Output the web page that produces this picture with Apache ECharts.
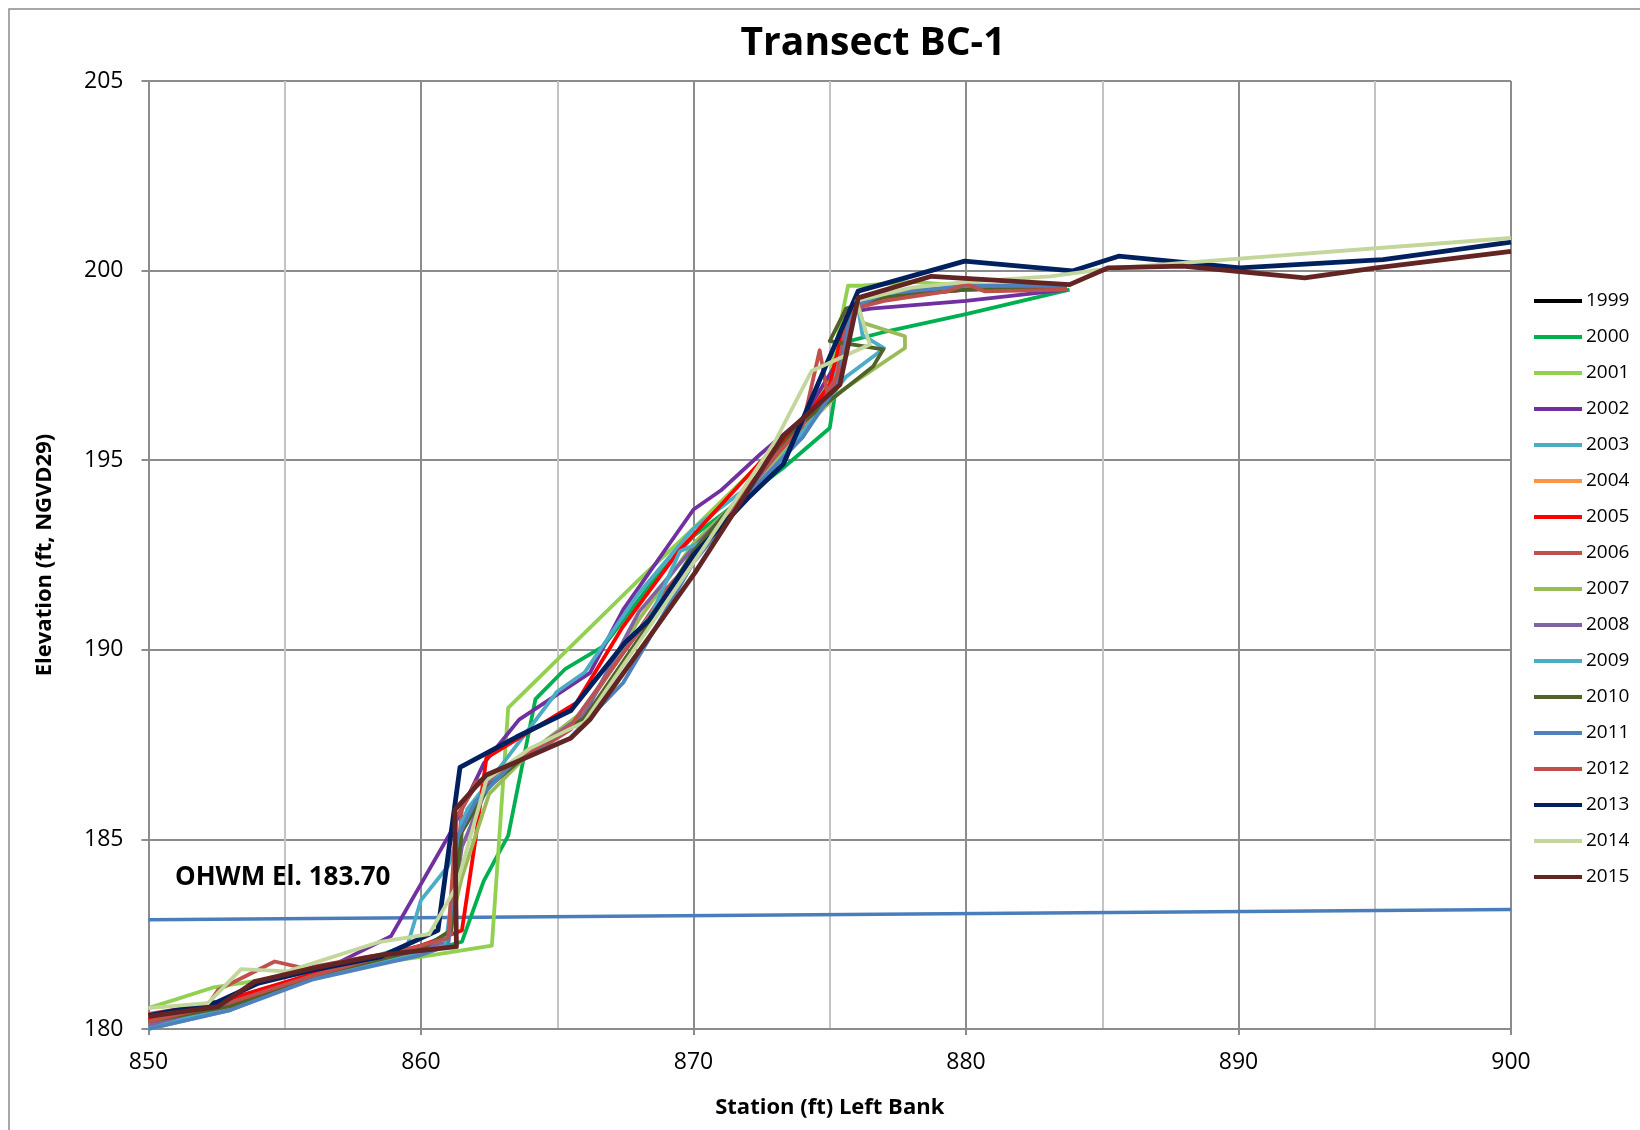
<!DOCTYPE html>
<html>
<head>
<meta charset="utf-8">
<script src="https://cdn.jsdelivr.net/npm/echarts@6/dist/echarts.min.js"></script>
<style>
html,body{margin:0;padding:0;background:#fff;}
#chart{width:1640px;height:1130px;}
</style>
</head>
<body>
<div id="chart"></div>
<script>
// ---- data (station ft, elevation ft) ----
const years = ['1999','2000','2001','2002','2003','2004','2005','2006','2007','2008','2009','2010','2011','2012','2013','2014','2015'];
const xTicks = [850, 860, 870, 880, 890, 900];
const yTicks = [180, 185, 190, 195, 200, 205];

const y1999 = [];
const y2000 = [[850,180.1],[853,180.7],[856,181.4],[860,182.0],[861.5,182.3],[862.3,183.9],[863.2,185.1],[864.2,188.7],[865.3,189.5],[866.7,190.1],[868.5,191.8],[870,193.0],[873.3,194.8],[875.0,195.85],[875.25,197.0],[875.5,198.1],[877.1,198.4],[880,198.85],[883.8,199.5]];
const y2001 = [[850,180.55],[852.4,181.1],[856,181.5],[860,181.9],[862.6,182.2],[863.2,188.47],[868.0,191.85],[870,193.2],[872,194.6],[874,196.0],[875,197.2],[875.67,199.6],[876.17,199.6],[878,199.7],[880,199.6],[883.7,199.6]];
const y2002 = [[850,180.2],[853,180.7],[856,181.4],[858.9,182.45],[861.1,185.2],[862.3,187.0],[863.6,188.16],[866.2,189.39],[867.42,191.06],[870,193.7],[871,194.2],[872.44,195.15],[874,196.1],[875.2,197.5],[875.7,198.9],[876.5,199.0],[880,199.2],[883.7,199.5]];
const y2003 = [[850,180.0],[853,180.5],[856,181.35],[859.5,182.2],[860,183.4],[861,184.3],[861.7,185.8],[863,187.0],[865,188.9],[866,189.4],[868,191.5],[870,193.2],[872,194.3],[874,195.6],[875,196.9],[875.7,198.9],[877,199.3],[880,199.6],[883.7,199.6]];
const y2004 = [];
const y2005 = [[850,180.25],[853,180.8],[856,181.45],[860,182.2],[861.5,182.6],[862,185.0],[862.4,187.15],[865.7,188.6],[867.4,190.6],[869.5,192.64],[872.44,194.94],[874,196.0],[875,197.0],[875.6,198.8],[876.5,199.3],[880,199.5],[883.7,199.55]];
const y2006 = [[850,180.4],[852.2,180.65],[852.55,181.03],[854.63,181.78],[855.73,181.6],[858,181.9],[860,182.1],[861.1,182.5],[861.5,185.8],[862,186.5],[863.5,187.0],[865.5,187.9],[867.5,190.0],[869,191.6],[870,192.4],[872,194.0],[874,195.8],[875.2,197.0],[875.7,199.0],[877,199.3],[880,199.5],[883.7,199.6]];
const y2007 = [[850,180.1],[853,180.5],[856,181.35],[860,182.0],[861,182.5],[861.5,184.0],[862.5,186.2],[864,187.3],[866,188.4],[868,190.8],[870,192.8],[872,194.2],[874,195.8],[875.37,196.8],[877.76,197.96],[877.76,198.27],[876.22,198.62],[876.0,199.2],[878,199.5],[880,199.55],[883.7,199.55]];
const y2008 = [[850,180.1],[853,180.6],[856,181.4],[860,182.1],[861,182.3],[861.5,184.8],[862.5,186.5],[864,187.3],[866,188.3],[868,191.0],[870,192.7],[872,194.2],[874,196.0],[875.3,197.0],[875.8,199.0],[877,199.35],[880,199.55],[883.7,199.55]];
const y2009 = [[850,180.0],[853,180.6],[856,181.35],[860,182.0],[860.9,182.2],[861.5,185.5],[863,186.8],[865.5,188.0],[867.5,190.0],[868.5,191.0],[869.5,192.6],[870.5,192.9],[872.5,194.4],[874.5,196.2],[875.6,197.2],[877.0,197.95],[876.2,198.3],[876.0,199.2],[878,199.5],[880,199.55],[883.7,199.6]];
const y2010 = [[850,180.2],[853,180.6],[856,181.4],[860,182.1],[861.1,182.6],[861.5,185.2],[862.5,186.4],[864,187.3],[866,188.2],[868,190.3],[870,192.6],[872,194.3],[874,196.0],[875.37,196.78],[876.6,197.48],[876.96,197.92],[875.86,198.05],[875.0,198.14],[875.6,199.0],[877,199.3],[880,199.5],[883.7,199.55]];
const y2011 = [[850,180.0],[853,180.5],[856,181.3],[860,181.95],[861,182.2],[861.3,185.0],[862,186.0],[863.5,187.1],[865.46,187.67],[867.42,189.13],[868.3,190.2],[870,192.3],[872,194.1],[874,195.6],[875.3,197.0],[875.8,199.0],[877,199.4],[880,199.6],[883.7,199.6]];
const y2012 = [[850,180.2],[853,180.7],[856,181.4],[859,182.0],[861,182.4],[861.3,185.6],[862,186.4],[864,187.3],[865.5,188.0],[867.5,190.0],[870,192.4],[872,194.3],[874,195.9],[874.63,197.9],[874.9,196.8],[875.5,197.5],[875.9,199.0],[877,199.2],[879.3,199.45],[880,199.65],[880.7,199.45],[883.7,199.5]];
const y2013 = [[850,180.35],[852.5,180.7],[854,181.2],[856,181.55],[858.5,181.9],[860.62,182.6],[861.43,186.9],[863.5,187.7],[865.5,188.4],[867.5,190.2],[868.4,190.8],[870,192.5],[872,194.0],[873.3,194.9],[876.04,199.46],[879.95,200.25],[883.9,199.99],[885.6,200.38],[890.05,200.07],[895.3,200.29],[900,200.75]];
const y2014 = [[850,180.55],[852.18,180.68],[853.4,181.58],[855.1,181.52],[858.5,182.3],[860.3,182.5],[861.3,183.76],[862.4,186.57],[864,187.4],[866,188.1],[868,190.2],[870,192.3],[873.0,195.5],[874.33,197.35],[876.47,198.05],[875.98,199.2],[878,199.55],[880,199.7],[883.1,199.85],[885.2,200.05],[900,200.86]];
const y2015 = [[850,180.33],[852.55,180.59],[853.9,181.25],[856,181.6],[858.5,181.95],[861.3,182.17],[861.24,185.78],[862.4,186.7],[865.5,187.67],[866.2,188.16],[868.4,190.36],[870.05,192.03],[873.29,195.63],[875.37,196.99],[876.04,199.28],[878.73,199.85],[883.8,199.63],[885.2,200.07],[887.95,200.12],[892.43,199.81],[895.05,200.07],[900,200.51]];
const ohwm = [[850,182.88],[900,183.15]];

const seriesData = [y1999,y2000,y2001,y2002,y2003,y2004,y2005,y2006,y2007,y2008,y2009,y2010,y2011,y2012,y2013,y2014,y2015];
const colors = ['#000000','#00b050','#92d050','#7030a0','#4bacc6','#f79646','#ff0000','#c0504d','#9bbb59','#8064a2','#4bacc6','#4f6228','#4f81bd','#c0504d','#002060','#c3d69b','#632523'];

const FONT = '"Open Sans", "DejaVu Sans", sans-serif';
const chart = echarts.init(document.getElementById('chart'), null, {renderer:'canvas'});

const series = [{
  name: 'OHWM', type: 'line', data: ohwm, symbol: 'none', silent: true,
  lineStyle: {color: '#4a7ebb', width: 3.5}, z: 1
}];
years.forEach((y, i) => {
  const thick = (y === '2013' || y === '2015');
  series.push({
    name: y, type: 'line', data: seriesData[i], symbol: 'none',
    color: colors[i],
    lineStyle: {color: colors[i], width: thick ? 4.8 : 3.8, join: 'round'},
    z: 2
  });
});

chart.setOption({
  animation: false,
  backgroundColor: '#ffffff',
  title: [{
    text: 'Transect BC-1', left: 868, top: 19, textAlign: 'center',
    textStyle: {fontFamily: FONT, fontWeight: 'bold', fontSize: 39, color: '#000'}
  }, {
    text: 'OHWM El. 183.70', left: 170, top: 860,
    textStyle: {fontFamily: FONT, fontWeight: 'bold', fontSize: 26, color: '#000'}
  }],
  graphic: [{
    type: 'rect', shape: {x: 9, y: 9, width: 1700, height: 1200},
    style: {fill: 'none', stroke: '#8a8a8a', lineWidth: 1.5}, silent: true, z: -1
  }],
  grid: {left: 148.5, right: 129, top: 81, bottom: 101, containLabel: false},
  legend: {
    data: years, orient: 'vertical', left: 1534, top: 291, padding: 0,
    icon: 'rect', itemWidth: 48, itemHeight: 4, itemGap: 16,
    textStyle: {fontFamily: FONT, fontSize: 19, color: '#000', lineHeight: 20, padding: [0,0,0,-1]}
  },
  xAxis: {
    type: 'value', min: 850, max: 900, interval: 10,
    name: 'Station (ft) Left Bank', nameLocation: 'middle', nameGap: 68,
    nameTextStyle: {fontFamily: FONT, fontWeight: 'bold', fontSize: 22, color: '#000'},
    axisLine: {show: true, lineStyle: {color: '#8c8c8c', width: 2}},
    axisTick: {show: true, length: 6, lineStyle: {color: '#8c8c8c', width: 2}},
    axisLabel: {fontFamily: FONT, fontSize: 23, color: '#000', margin: 22},
    splitLine: {show: true, lineStyle: {color: '#8c8c8c', width: 2}},
    minorTick: {show: false, splitNumber: 2},
    minorSplitLine: {show: true, lineStyle: {color: '#c4c4c4', width: 2}}
  },
  yAxis: {
    type: 'value', min: 180, max: 205, interval: 5,
    name: 'Elevation (ft, NGVD29)', nameLocation: 'middle', nameGap: 93, nameRotate: 90,
    nameTextStyle: {fontFamily: FONT, fontWeight: 'bold', fontSize: 22, color: '#000'},
    axisLine: {show: true, lineStyle: {color: '#8c8c8c', width: 2}},
    axisTick: {show: true, length: 7, lineStyle: {color: '#8c8c8c', width: 2}},
    axisLabel: {fontFamily: FONT, fontSize: 23, color: '#000', margin: 25},
    splitLine: {show: true, lineStyle: {color: '#8c8c8c', width: 2}}
  },
  series: series
});
</script>
</body>
</html>
